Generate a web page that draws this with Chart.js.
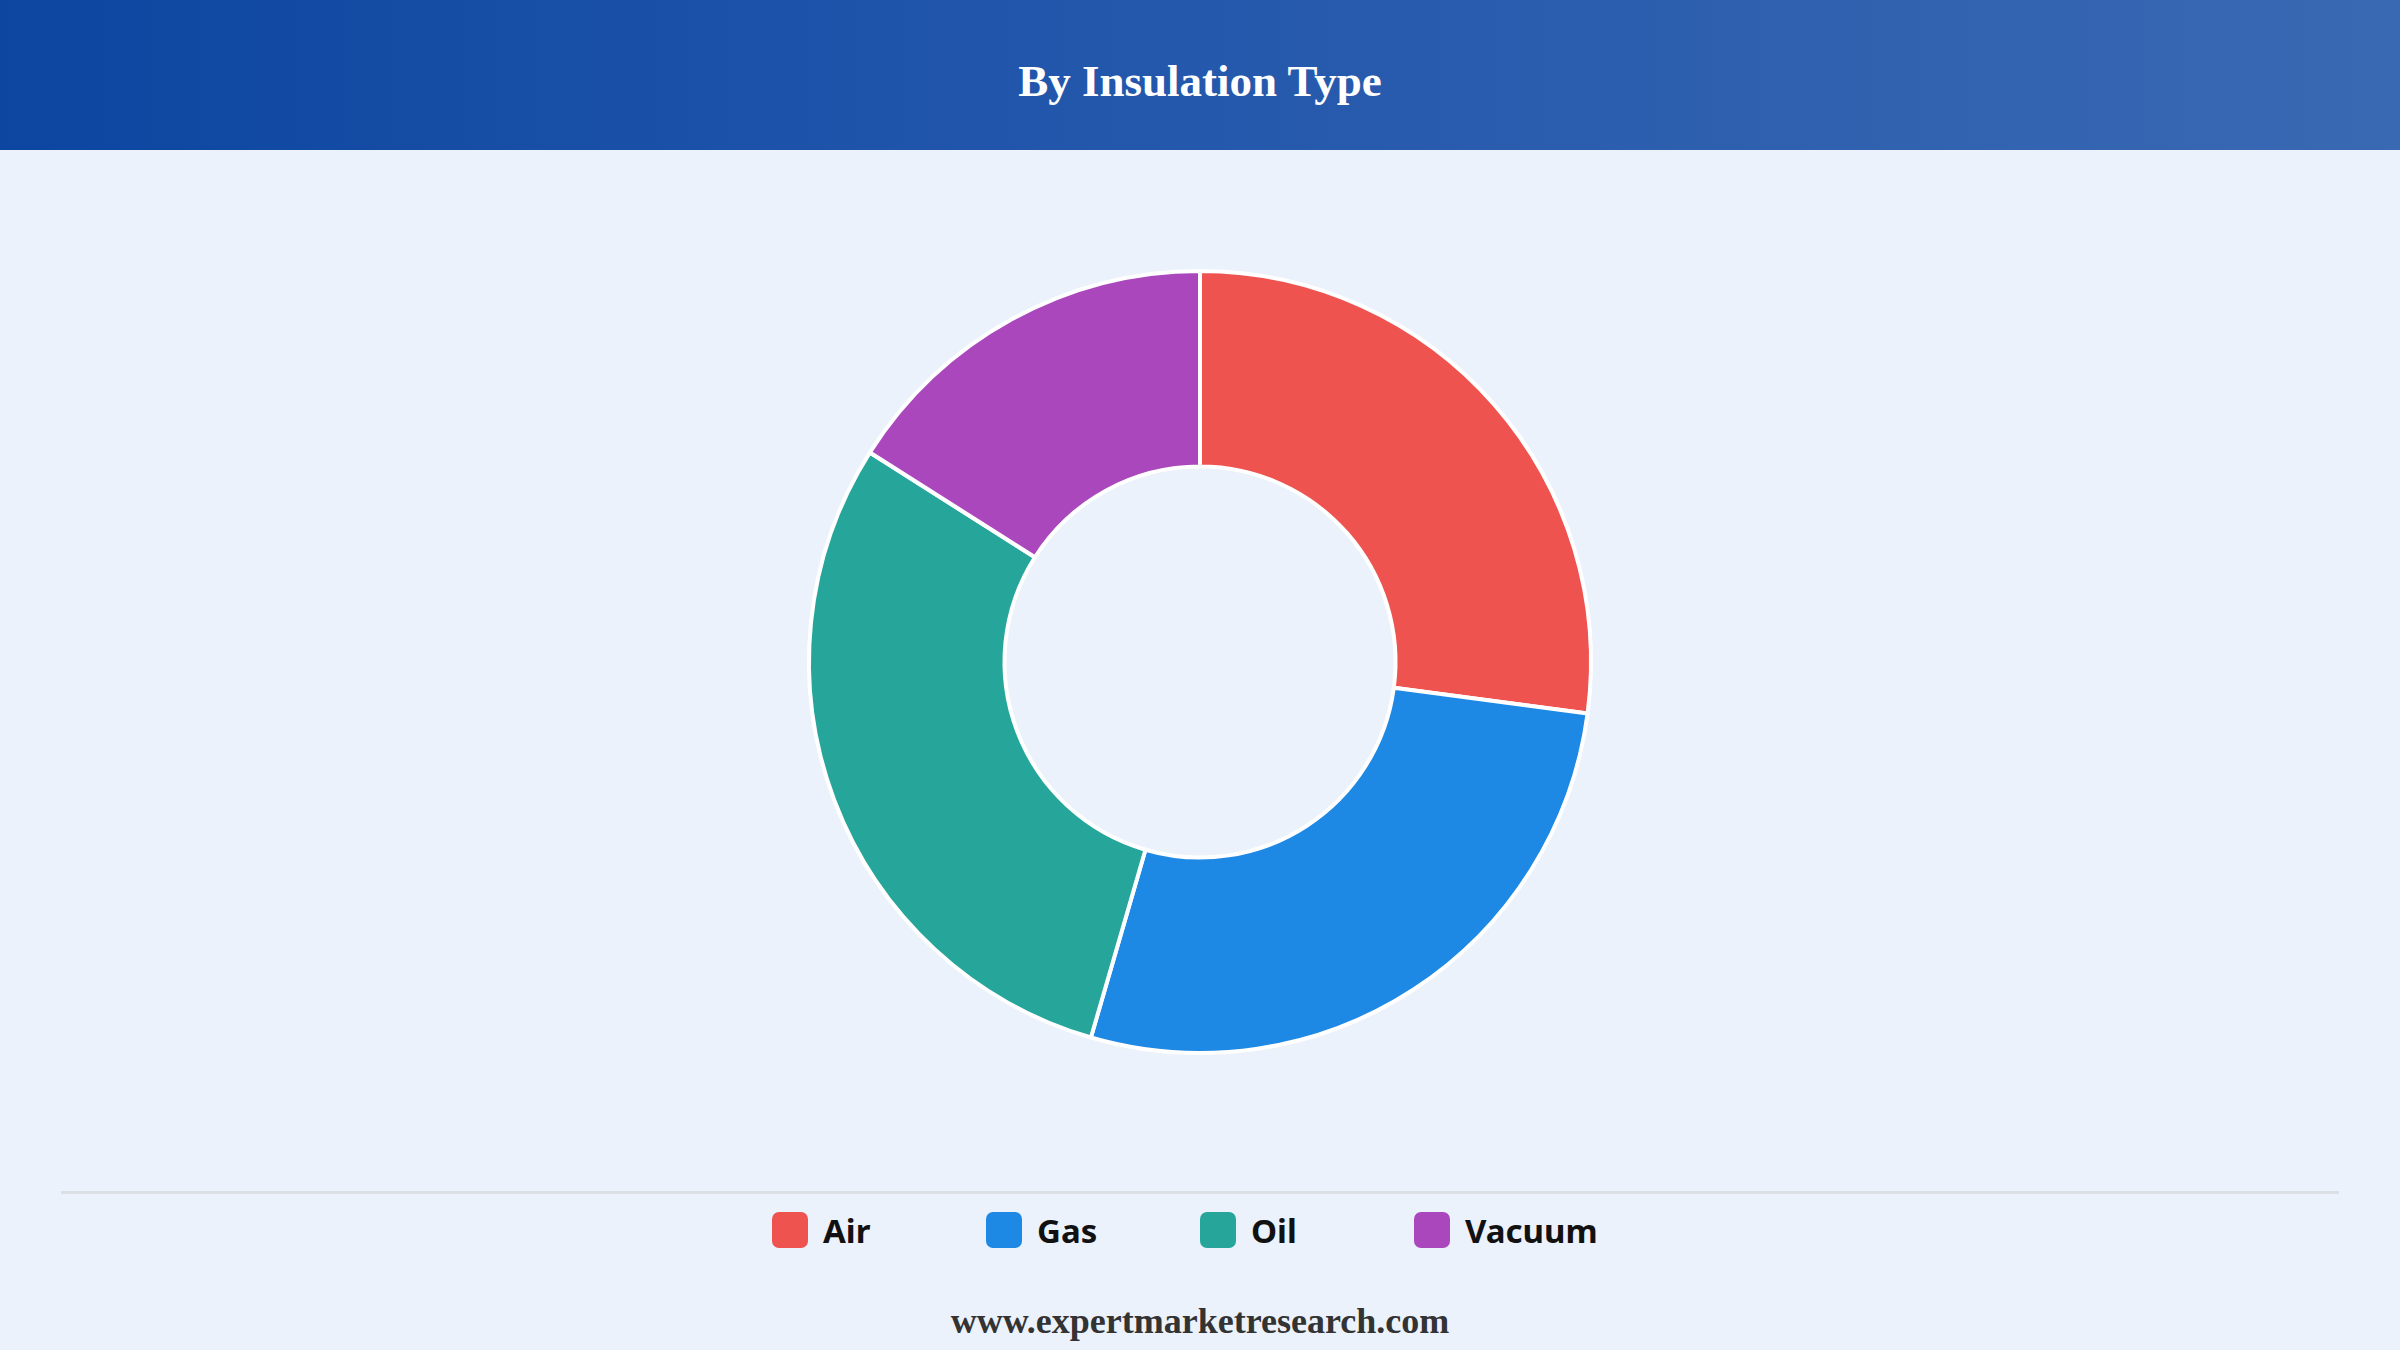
<!DOCTYPE html>
<html>
<head>
<meta charset="utf-8">
<script src="https://cdn.jsdelivr.net/npm/chart.js@4"></script>
<style>
  html, body { margin: 0; padding: 0; }
  body { width: 2400px; height: 1350px; background: #ebf2fc; position: relative; overflow: hidden; }
  .head {
    position: absolute; left: 0; top: 0; width: 2400px; height: 150px;
    background: linear-gradient(90deg, #0c46a0 0%, #2055ab 40%, #3a69b3 100%);
    color: #fff; font-family: "Liberation Serif", "DejaVu Serif", serif; font-weight: bold;
    font-size: 45px; line-height: 150px; text-align: center; padding-top: 6px; box-sizing: border-box;
  }
  .box { position: absolute; left: 0; top: 269px; width: 2400px; height: 786px; }
  .sep { position: absolute; left: 61px; width: 2278px; top: 1191px; height: 3px; background: #dcdfe4; }
  .legend { position: absolute; left: 772px; top: 1212px; height: 36px; display: flex; }
  .legend .item { width: 214px; display: flex; align-items: center; }
  .legend .sw { width: 36px; height: 36px; border-radius: 7px; margin-right: 15px; }
  .legend span { font-family: "Noto Sans", "Open Sans", sans-serif; font-weight: bold; font-size: 33px; color: #111; }
  .foot {
    position: absolute; left: 0; width: 2400px; top: 1300px; text-align: center;
    font-family: "Liberation Serif", "DejaVu Serif", serif; font-weight: bold; font-size: 36px; color: #333;
  }
</style>
</head>
<body>
<div class="head">By Insulation Type</div>
<div class="box"><canvas id="c"></canvas></div>
<div class="sep"></div>
<div class="legend" id="legend"></div>
<div class="foot">www.expertmarketresearch.com</div>
<script>
// insulation type shares (%)
var types = ['Air', 'Gas', 'Oil', 'Vacuum']
var shares = [27.1, 27.4, 29.5, 16.0]
var colors = ['#ef5350', '#1e88e5', '#26a69a', '#ab47bc']

// legend is plain html so items sit on a fixed step like the original
var lg = document.getElementById('legend')
types.forEach(function(t, i) {
    var it = document.createElement('div')
    it.className = 'item'
    it.innerHTML = '<div class="sw" style="background:' + colors[i] + '"></div><span>' + t + '</span>'
    lg.appendChild(it)
})

new Chart(document.getElementById('c'), {
    type: 'doughnut',
    data: {
        labels: types,
        datasets: [{
            data: shares,
            backgroundColor: colors,
            borderColor: '#ffffff',
            borderWidth: 4,
            hoverOffset: 0
        }]
    },
    options: {
        responsive: true,
        maintainAspectRatio: false,
        animation: false,
        cutout: '50%',
        layout: { padding: 0 },
        plugins: {
            legend: { display: false },
            tooltip: { enabled: false }
        }
    }
})
</script>
</body>
</html>
